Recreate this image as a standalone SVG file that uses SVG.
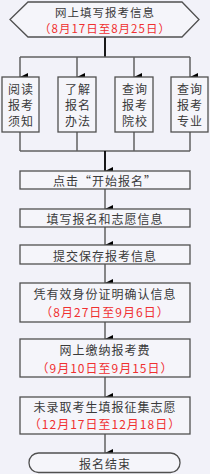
<svg xmlns="http://www.w3.org/2000/svg" width="210" height="474" viewBox="0 0 210 474">
<defs>
<marker id="ah" viewBox="0 0 8 8" refX="4" refY="8" markerWidth="8" markerHeight="8" markerUnits="userSpaceOnUse" orient="auto-start-reverse">
<path d="M0,0 L8,0 L4,8 Z" fill="#000"/>
</marker>
<style>
.bg{fill:#F2F2F9}
.box{fill:#F5F5FA;stroke:#505050;stroke-width:1.3}
.t{font-family:"Noto Sans CJK SC","Noto Sans",sans-serif;font-size:12px;fill:#3a3a3a;text-anchor:middle;dominant-baseline:central;letter-spacing:1px}
.s{font-size:11.5px}
.r{fill:#F03030}
.ln{fill:none;stroke:#606060;stroke-width:1.5}
.mn{fill:none;stroke:#000;stroke-width:1.8}
</style>
</defs>
<rect class="bg" x="0" y="0" width="210" height="474"/>
<g id="connectors">
<line class="mn" x1="105" y1="37" x2="105" y2="57"/>
<line class="ln" x1="20" y1="57" x2="190" y2="57"/>
<line class="ln" x1="20" y1="57" x2="20" y2="77" marker-end="url(#ah)"/>
<line class="ln" x1="77" y1="57" x2="77" y2="77" marker-end="url(#ah)"/>
<line class="ln" x1="134" y1="57" x2="134" y2="77" marker-end="url(#ah)"/>
<line class="ln" x1="190" y1="57" x2="190" y2="77" marker-end="url(#ah)"/>
<line class="ln" x1="20" y1="132" x2="20" y2="151"/>
<line class="ln" x1="77" y1="132" x2="77" y2="151"/>
<line class="ln" x1="134" y1="132" x2="134" y2="151"/>
<line class="ln" x1="190" y1="132" x2="190" y2="151"/>
<line class="ln" x1="20" y1="151" x2="190" y2="151"/>
<line class="mn" x1="105" y1="151" x2="105" y2="171" marker-end="url(#ah)"/>
<line class="ln" x1="105" y1="189" x2="105" y2="209" marker-end="url(#ah)"/>
<line class="ln" x1="105" y1="227" x2="105" y2="245" marker-end="url(#ah)"/>
<line class="ln" x1="105" y1="264" x2="105" y2="283" marker-end="url(#ah)"/>
<line class="ln" x1="105" y1="322" x2="105" y2="339" marker-end="url(#ah)"/>
<line class="ln" x1="105" y1="377" x2="105" y2="397" marker-end="url(#ah)"/>
<line class="ln" x1="105" y1="434" x2="105" y2="453" marker-end="url(#ah)"/>
</g>
<g id="n0">
<polygon class="box" points="10,19.5 28,2 182,2 199,19.5 182,37 28,37"/>
<text class="t s" x="105" y="11.5">网上填写报考信息</text>
<text class="t s r" x="105" y="27.5">（8月17日至8月25日）</text>
</g>
<g id="n1">
<rect class="box" x="2" y="77" width="37" height="55"/>
<text class="t" x="21" y="88">阅读</text>
<text class="t" x="21" y="104">报考</text>
<text class="t" x="21" y="120">须知</text>
</g>
<g id="n2">
<rect class="box" x="58" y="77" width="38" height="55"/>
<text class="t" x="78" y="88">了解</text>
<text class="t" x="78" y="104">报名</text>
<text class="t" x="78" y="120">办法</text>
</g>
<g id="n3">
<rect class="box" x="115" y="77" width="38" height="55"/>
<text class="t" x="135" y="88">查询</text>
<text class="t" x="135" y="104">报考</text>
<text class="t" x="135" y="120">院校</text>
</g>
<g id="n4">
<rect class="box" x="171" y="77" width="37" height="55"/>
<text class="t" x="190" y="88">查询</text>
<text class="t" x="190" y="104">报考</text>
<text class="t" x="190" y="120">专业</text>
</g>
<g id="n5">
<rect class="box" x="20" y="171" width="170" height="18"/>
<text class="t" x="105" y="180.5">点击“开始报名”</text>
</g>
<g id="n6">
<rect class="box" x="20" y="209" width="170" height="18"/>
<text class="t" x="105" y="218">填写报名和志愿信息</text>
</g>
<g id="n7">
<rect class="box" x="20" y="245" width="170" height="19"/>
<text class="t" x="105" y="255">提交保存报考信息</text>
</g>
<g id="n8">
<rect class="box" x="20" y="283" width="170" height="39"/>
<text class="t" x="105" y="293">凭有效身份证明确认信息</text>
<text class="t r" x="105" y="311">（8月27日至9月6日）</text>
</g>
<g id="n9">
<rect class="box" x="20" y="339" width="170" height="38"/>
<text class="t" x="105" y="349">网上缴纳报考费</text>
<text class="t r" x="105" y="367">（9月10日至9月15日）</text>
</g>
<g id="n10">
<rect class="box" x="20" y="397" width="170" height="37"/>
<text class="t" x="105" y="406">未录取考生填报征集志愿</text>
<text class="t r" x="105" y="423">（12月17日至12月18日）</text>
</g>
<g id="n11">
<rect class="box" x="29" y="453" width="151" height="19.5" rx="9.5" ry="9.5"/>
<text class="t" x="105" y="463">报名结束</text>
</g>
</svg>
